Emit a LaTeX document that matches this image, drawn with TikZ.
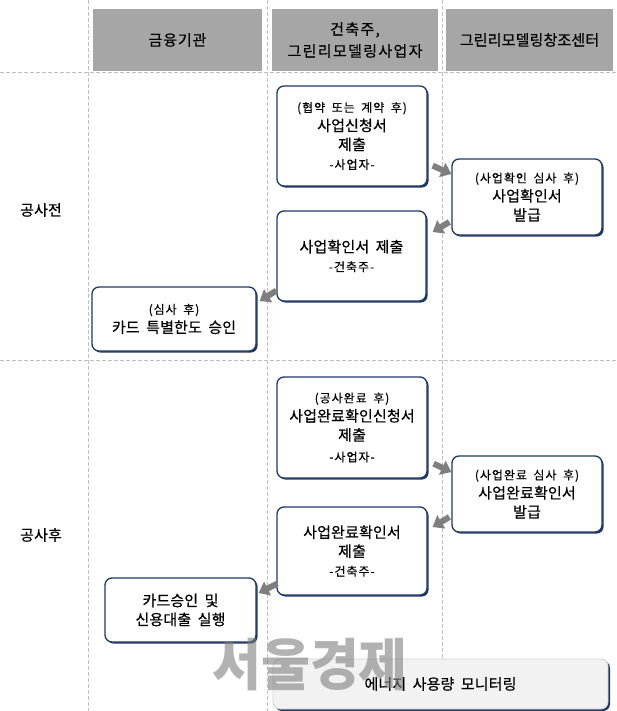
\documentclass[tikz,border=0pt]{standalone}
\usepackage{fontspec}
\setmainfont{Noto Sans CJK KR}
\newfontfamily\krha[LetterSpace=6,FakeBold=0.4]{Noto Sans CJK KR}
\newfontfamily\krhb[LetterSpace=9,FakeBold=0.4]{Noto Sans CJK KR}
\newfontfamily\krhc[LetterSpace=1,FakeBold=0.4]{Noto Sans CJK KR}
\newfontfamily\kr[LetterSpace=1,FakeBold=0.5]{Noto Sans CJK KR}
\newfontfamily\krs[LetterSpace=8,WordSpace=2,FakeBold=0.2]{Noto Sans CJK KR}
\usetikzlibrary{arrows.meta,shadows}
\definecolor{navy}{HTML}{1F3864}
\definecolor{hdrgray}{HTML}{A6A6A6}
\definecolor{lanegray}{HTML}{BFBFBF}
\definecolor{arrowgray}{HTML}{7F7F7F}
\definecolor{energyfill}{HTML}{F2F2F2}
\definecolor{energyline}{HTML}{D0D0D0}
\newcommand{\sm}[1]{{\krs\fontsize{12}{19}\selectfont #1}}
\newcommand{\mainfnt}{\kr\fontsize{15}{19}\selectfont\spaceskip=6.5pt plus 1pt\relax}
\tikzset{
  lane/.style={draw=lanegray, line width=0.8pt, dash pattern=on 4pt off 2pt},
  hdr/.style={fill=hdrgray, inner sep=0pt, align=center},
  stepbox/.style={draw=navy, line width=1.3pt, rounded corners=7pt, fill=white,
    inner sep=0pt, align=center, font=\mainfnt,
    drop shadow={shadow xshift=1.6pt, shadow yshift=-1.6pt, fill=navy, opacity=1}},
  energybox/.style={draw=energyline, line width=0.8pt, rounded corners=7pt, fill=energyfill,
    inner sep=0pt, align=center, font=\mainfnt,
    drop shadow={shadow xshift=2pt, shadow yshift=-2pt, fill=navy, opacity=1}},
  flow/.style={draw=arrowgray, line width=6pt, -{Triangle[width=15pt,length=10pt]}},
  rowlbl/.style={font=\mainfnt},
}
\begin{document}
\begin{tikzpicture}[x=1pt,y=-1pt]
\useasboundingbox (0,0) rectangle (617,711);
\fill[white] (0,0) rectangle (617,711);

% lane lines
\draw[lane] (88,0) -- (88,711);
\draw[lane] (267,0) -- (267,711);
\draw[lane] (442,0) -- (442,711);
\draw[lane] (0,72) -- (617,72);
\draw[lane] (0,360) -- (617,360);

% headers
\node[hdr, minimum width=169pt, minimum height=62pt, font=\krha\fontsize{15}{22}\selectfont] (h1) at (177.5,40) {금융기관};
\node[hdr, minimum width=166pt, minimum height=62pt, font=\krhb\fontsize{15}{22}\selectfont] (h2) at (355,40) {건축주,\\그린리모델링사업자};
\node[hdr, minimum width=167pt, minimum height=62pt, font=\krhc\fontsize{15}{22}\selectfont] (h3) at (529.5,40) {그린리모델링창조센터};

% row labels
\node[rowlbl] (r1) at (41,210) {공사전};
\node[rowlbl] (r2) at (41,535) {공사후};

% boxes
\node[stepbox, minimum width=150pt, minimum height=100pt] (b1) at (352,136)
  {\sm{(협약 또는 계약 후)}\\사업신청서\\제출\\\sm{-사업자-}};
\node[stepbox, minimum width=150pt, minimum height=76pt] (b2) at (527,197)
  {\sm{(사업확인 심사 후)}\\사업확인서\\발급};
\node[stepbox, minimum width=149pt, minimum height=90pt] (b3) at (351.5,256)
  {사업확인서 제출\\\sm{-건축주-}};
\node[stepbox, minimum width=164pt, minimum height=64pt] (b4) at (174,319)
  {\sm{(심사 후)}\\카드 특별한도 승인};
\node[stepbox, minimum width=150pt, minimum height=101pt] (b5) at (352,427.5)
  {\sm{(공사완료 후)}\\사업완료확인신청서\\제출\\[2pt]\sm{-사업자-}};
\node[stepbox, minimum width=150pt, minimum height=76pt] (b6) at (527,494)
  {\sm{(사업완료 심사 후)}\\사업완료확인서\\발급};
\node[stepbox, minimum width=150pt, minimum height=88pt] (b7) at (352,551)
  {사업완료확인서\\제출\\\sm{-건축주-}};
\node[stepbox, minimum width=151pt, minimum height=64pt] (b8) at (180.5,610)
  {카드승인 및\\신용대출 실행};
\node[energybox, minimum width=335pt, minimum height=50pt] (b9) at (440.5,684)
  {에너지 사용량 모니터링};

% arrows
\draw[flow] ([xshift=5pt,yshift=21pt]b1.south east) -- ([yshift=23pt]b2.west);
\draw[flow] ([xshift=-2pt,yshift=-25pt]b2.west) -- ([xshift=6pt,yshift=24pt]b3.east);
\draw[flow] ([xshift=0pt,yshift=11pt]b3.south west) -- ([xshift=3pt,yshift=18pt]b4.east);
\draw[flow] ([xshift=6pt,yshift=15pt]b5.south east) -- ([yshift=22pt]b6.west);
\draw[flow] ([xshift=-2pt,yshift=-23pt]b6.west) -- ([xshift=5pt,yshift=24pt]b7.east);
\draw[flow] ([xshift=1pt,yshift=12pt]b7.south west) -- ([xshift=2pt,yshift=17pt]b8.east);

% watermark (drawn over the picture, semi-transparent)
\node[font=\bfseries\fontsize{56}{60}\selectfont, text=gray, opacity=0.6, xscale=0.95] (wm) at (310,665) {서울경제};
\end{tikzpicture}
\end{document}
